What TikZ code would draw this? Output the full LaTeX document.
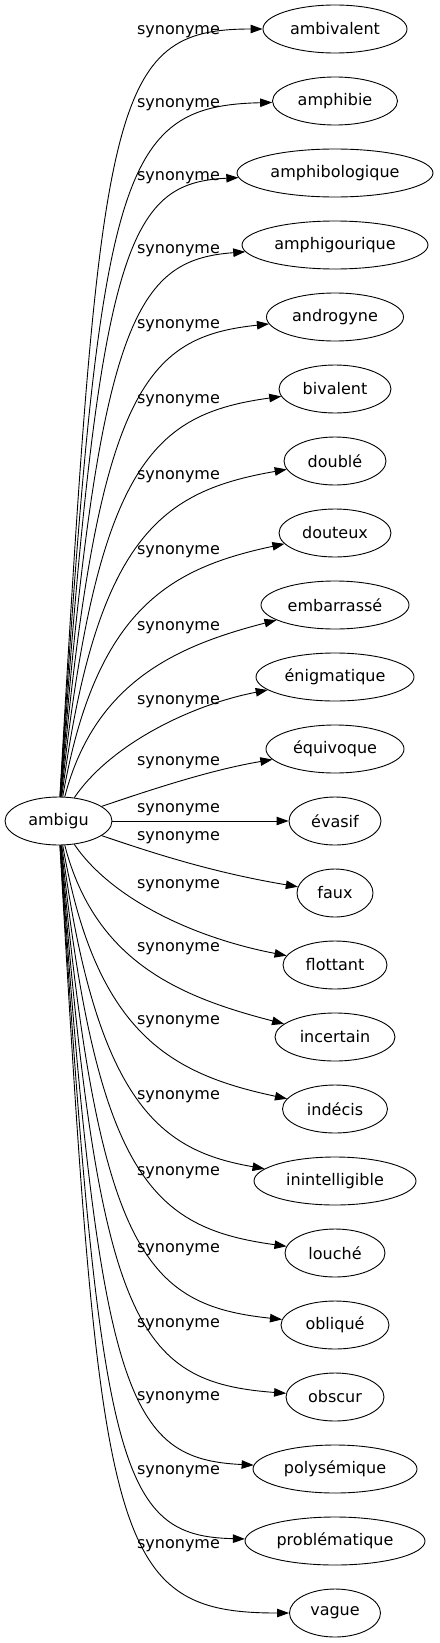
\documentclass[tikz,border=0pt]{standalone}
\usepackage{fontspec}
\setmainfont{DejaVu Sans}
\usepackage{tikz}
\usetikzlibrary{arrows.meta,shapes.geometric}

\begin{document}
\begin{tikzpicture}[x=1pt,y=-1pt,
  word/.style={draw,ellipse,line width=0.9pt,inner sep=0pt,minimum height=48pt,font=\fontsize{16}{19}\selectfont},
  rel/.style={inner sep=0pt,font=\fontsize{16}{19}\selectfont},
  arc/.style={line width=0.9pt,-{Triangle[length=12pt,width=8.5pt]}}]

\useasboundingbox (0,0) rectangle (439,1643);

% source word
\node[word,minimum width=107pt] (ambigu) at (58.5,821) {ambigu};

% synonyms
\node[word,minimum width=144pt] (ambivalent) at (335,29) {ambivalent};
\node[word,minimum width=125pt] (amphibie) at (335,101) {amphibie};
\node[word,minimum width=196pt] (amphibologique) at (335,173) {amphibologique};
\node[word,minimum width=186pt] (amphigourique) at (335,245) {amphigourique};
\node[word,minimum width=137pt] (androgyne) at (335,317) {androgyne};
\node[word,minimum width=112pt] (bivalent) at (335,389) {bivalent};
\node[word,minimum width=102pt] (double) at (335,461) {doublé};
\node[word,minimum width=112pt] (douteux) at (335,533) {douteux};
\node[word,minimum width=148pt] (embarrasse) at (335,605) {embarrassé};
\node[word,minimum width=158pt] (enigmatique) at (335,677) {énigmatique};
\node[word,minimum width=138pt] (equivoque) at (335,749) {équivoque};
\node[word,minimum width=92pt] (evasif) at (335,821) {évasif};
\node[word,minimum width=76pt] (faux) at (335,893) {faux};
\node[word,minimum width=104pt] (flottant) at (335,965) {flottant};
\node[word,minimum width=120pt] (incertain) at (335,1037) {incertain};
\node[word,minimum width=105pt] (indecis) at (335,1109) {indécis};
\node[word,minimum width=162pt] (inintelligible) at (335,1181) {inintelligible};
\node[word,minimum width=100pt] (louche) at (335,1253) {louché};
\node[word,minimum width=108pt] (oblique) at (335,1325) {obliqué};
\node[word,minimum width=98pt] (obscur) at (335,1397) {obscur};
\node[word,minimum width=164pt] (polysemique) at (335,1469) {polysémique};
\node[word,minimum width=180pt] (problematique) at (335,1541) {problématique};
\node[word,minimum width=91pt] (vague) at (335,1613) {vague};

% edges
\draw[arc] (ambigu) .. controls (100,99) and (110,29) .. (ambivalent);
\draw[arc] (ambigu) .. controls (99.4,171.6) and (118.8,106) .. (amphibie);
\draw[arc] (ambigu) .. controls (98.8,244.3) and (127.5,183) .. (amphibologique);
\draw[arc] (ambigu) .. controls (98.1,316.9) and (136.3,260) .. (amphigourique);
\draw[arc] (ambigu) .. controls (97.5,389.5) and (145,337) .. (androgyne);
\draw[arc] (ambigu) .. controls (96.9,462.1) and (153.8,414) .. (bivalent);
\draw[arc] (ambigu) .. controls (96.3,534.8) and (162.5,491) .. (double);
\draw[arc] (ambigu) .. controls (95.6,607.4) and (171.3,568) .. (douteux);
\draw[arc] (ambigu) .. controls (95,680) and (180,645) .. (embarrasse);
\draw[arc] (ambigu) .. controls (110,745) and (190,705) .. (enigmatique);
\draw[arc] (ambigu) .. controls (150,790) and (210,770) .. (equivoque);
\draw[arc] (ambigu) -- (evasif);
\draw[arc] (ambigu) .. controls (150,852) and (210,872) .. (faux);
\draw[arc] (ambigu) .. controls (110,897) and (190,937) .. (flottant);
\draw[arc] (ambigu) .. controls (95,962) and (180,997) .. (incertain);
\draw[arc] (ambigu) .. controls (95.6,1034.6) and (171.3,1074) .. (indecis);
\draw[arc] (ambigu) .. controls (96.3,1107.3) and (162.5,1151) .. (inintelligible);
\draw[arc] (ambigu) .. controls (96.9,1179.9) and (153.8,1228) .. (louche);
\draw[arc] (ambigu) .. controls (97.5,1252.5) and (145,1305) .. (oblique);
\draw[arc] (ambigu) .. controls (98.1,1325.1) and (136.3,1382) .. (obscur);
\draw[arc] (ambigu) .. controls (98.8,1397.8) and (127.5,1459) .. (polysemique);
\draw[arc] (ambigu) .. controls (99.4,1470.4) and (118.8,1536) .. (problematique);
\draw[arc] (ambigu) .. controls (100,1543) and (110,1613) .. (vague);

% edge labels
\node[rel] (s-ambivalent) at (178.5,32) {synonyme};
\node[rel] (s-amphibie) at (178.5,105) {synonyme};
\node[rel] (s-amphibologique) at (178.5,178) {synonyme};
\node[rel] (s-amphigourique) at (178.5,251) {synonyme};
\node[rel] (s-androgyne) at (178.5,326) {synonyme};
\node[rel] (s-bivalent) at (178.5,401) {synonyme};
\node[rel] (s-double) at (178.5,477) {synonyme};
\node[rel] (s-douteux) at (178.5,552) {synonyme};
\node[rel] (s-embarrasse) at (178.5,628) {synonyme};
\node[rel] (s-enigmatique) at (178.5,702) {synonyme};
\node[rel] (s-equivoque) at (178.5,763) {synonyme};
\node[rel] (s-evasif) at (178.5,810) {synonyme};
\node[rel] (s-faux) at (178.5,838) {synonyme};
\node[rel] (s-flottant) at (178.5,886) {synonyme};
\node[rel] (s-incertain) at (178.5,949) {synonyme};
\node[rel] (s-indecis) at (178.5,1022) {synonyme};
\node[rel] (s-inintelligible) at (178.5,1097) {synonyme};
\node[rel] (s-louche) at (178.5,1173) {synonyme};
\node[rel] (s-oblique) at (178.5,1250) {synonyme};
\node[rel] (s-obscur) at (178.5,1325) {synonyme};
\node[rel] (s-polysemique) at (178.5,1398) {synonyme};
\node[rel] (s-problematique) at (178.5,1472) {synonyme};
\node[rel] (s-vague) at (178.5,1546) {synonyme};
\end{tikzpicture}
\end{document}
